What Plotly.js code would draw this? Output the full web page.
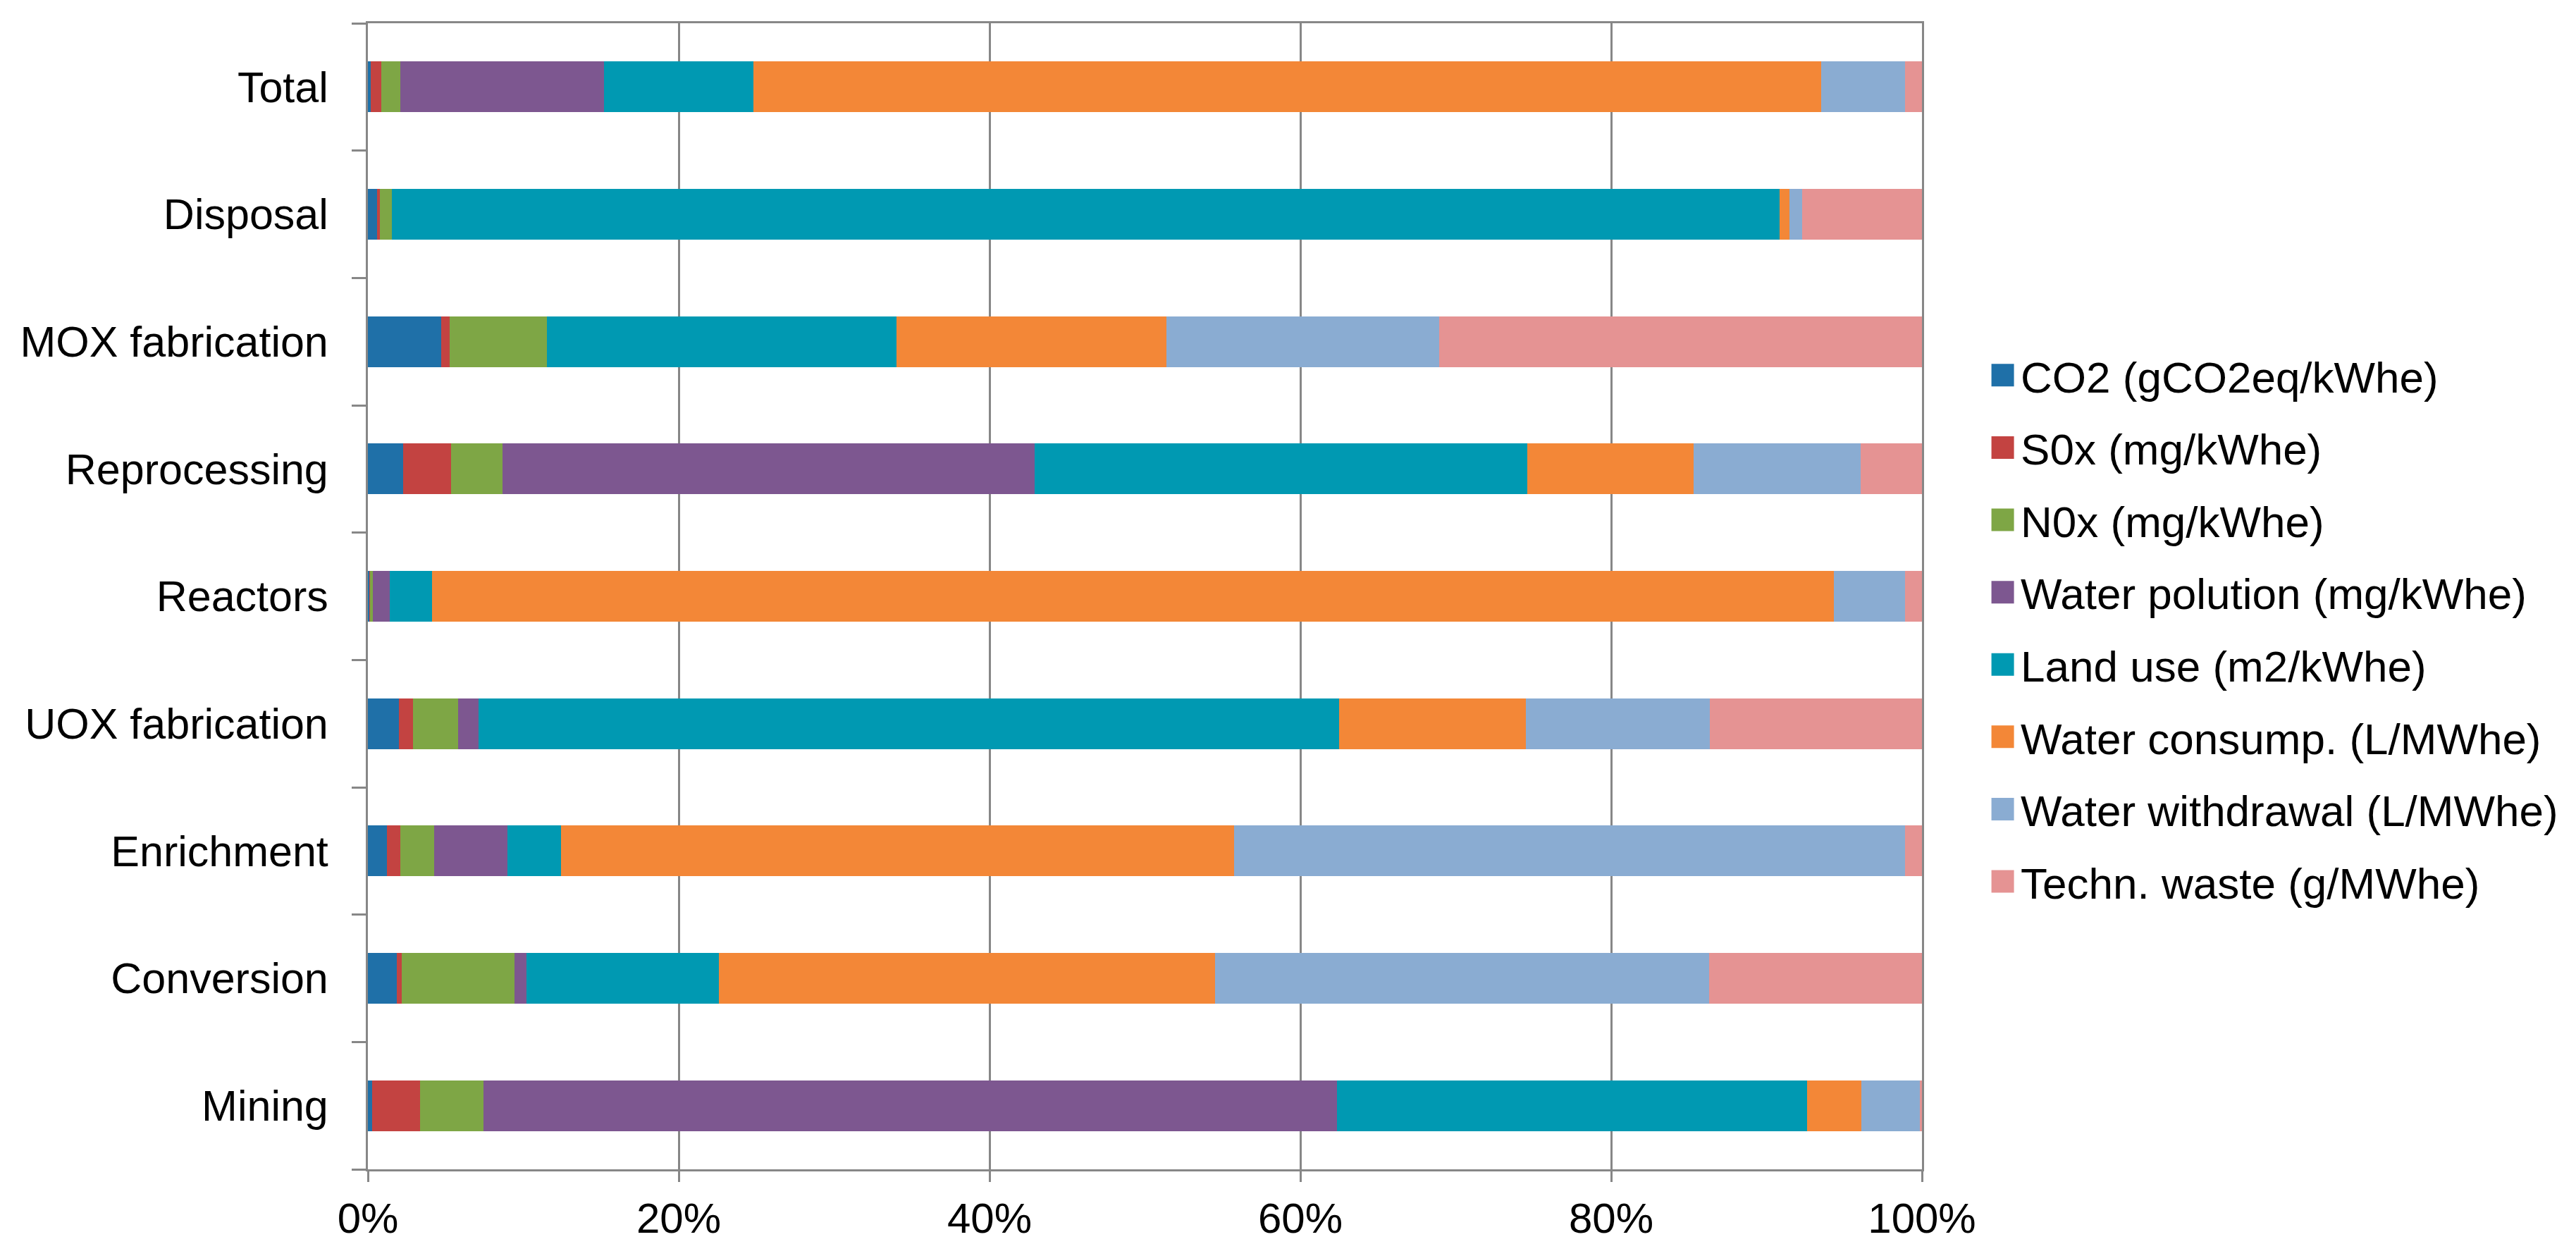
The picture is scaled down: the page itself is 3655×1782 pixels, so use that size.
<!DOCTYPE html>
<html>
<head>
<meta charset="utf-8">
<script src="https://cdn.plot.ly/plotly-3.0.1.min.js"></script>
<style>
  html, body { margin: 0; padding: 0; background: #fff; }
</style>
</head>
<body>
<div id="chart"></div>
<script>
// stages, bottom to top (as in the Excel original)
var stages = ['Mining', 'Conversion', 'Enrichment', 'UOX fabrication', 'Reactors',
              'Reprocessing', 'MOX fabrication', 'Disposal', 'Total'];

// share of each indicator per stage (%)
var co2       = [0.26, 1.87, 1.23, 2.00, 0.10, 2.26, 4.72, 0.58, 0.20];
var sox       = [3.10, 0.32, 0.84, 0.90, 0.05, 3.10, 0.52, 0.19, 0.65];
var nox       = [4.07, 7.24, 2.20, 2.91, 0.15, 3.30, 6.27, 0.78, 1.23];
var waterPol  = [54.95, 0.78, 4.72, 1.29, 1.10, 34.26, 0, 0, 13.12];
var landUse   = [30.25, 12.35, 3.43, 55.40, 2.71, 31.67, 22.50, 89.27, 9.63];
var waterCons = [3.49, 31.93, 43.31, 12.02, 90.17, 10.73, 17.39, 0.65, 68.71];
var waterWith = [3.75, 31.80, 43.18, 11.83, 4.59, 10.73, 17.52, 0.84, 5.37];
var techWaste = [0.13, 13.70, 1.10, 13.64, 1.10, 3.94, 31.09, 7.69, 1.10];

var seriesNames = ['CO2 (gCO2eq/kWhe)', 'S0x (mg/kWhe)', 'N0x (mg/kWhe)',
                   'Water polution (mg/kWhe)', 'Land use (m2/kWhe)',
                   'Water consump. (L/MWhe)', 'Water withdrawal (L/MWhe)',
                   'Techn. waste (g/MWhe)'];
var seriesValues = [co2, sox, nox, waterPol, landUse, waterCons, waterWith, techWaste];
var colors = ['#1f70a8', '#c34341', '#7ea645', '#7d5790',
              '#0099b2', '#f38737', '#8aacd2', '#e59393'];

var data = seriesNames.map(function (name, i) {
  return {
    x: seriesValues[i],
    y: stages,
    name: name,
    type: 'bar',
    orientation: 'h',
    legendgroup: 'g' + i,
    hoverinfo: 'name+x',
    marker: { color: colors[i], line: { width: 0 } }
  };
});

var grey = '#878787';

var layout = {
  width: 3655,
  height: 1782,
  barmode: 'stack',
  barnorm: 'percent',
  bargap: 0.6,
  paper_bgcolor: '#fff',
  plot_bgcolor: '#fff',
  font: { family: 'Liberation Sans, Arial, sans-serif', size: 61, color: '#000' },
  margin: { l: 522, r: 928, t: 33, b: 123, pad: 0 },
  xaxis: {
    range: [0, 100],
    dtick: 20,
    ticksuffix: '%',
    showgrid: true,
    gridcolor: grey,
    gridwidth: 3,
    zeroline: false,
    showline: true,
    mirror: true,
    linecolor: grey,
    linewidth: 3,
    ticks: 'outside',
    ticklen: 15,
    tickwidth: 3,
    tickcolor: grey,
    tickfont: { size: 60 },
    fixedrange: true
  },
  yaxis: {
    showgrid: false,
    showline: true,
    mirror: true,
    linecolor: grey,
    linewidth: 3,
    ticks: 'outside',
    tickson: 'boundaries',
    ticklen: 20,
    tickwidth: 3,
    tickcolor: grey,
    ticklabelstandoff: 41,
    tickfont: { size: 61 },
    fixedrange: true
  },
  showlegend: true,
  legend: {
    x: 1.0404,
    xanchor: 'left',
    y: 0.472,
    yanchor: 'middle',
    traceorder: 'grouped',
    tracegroupgap: 19,
    itemwidth: 41,
    font: { size: 62 },
    bgcolor: 'rgba(0,0,0,0)'
  }
};

var config = { responsive: false, displayModeBar: false, staticPlot: true };

Plotly.newPlot('chart', data, layout, config).then(function (gd) {
  // Excel draws much larger legend keys than plotly's 12px squares
  gd.querySelectorAll('.legend .legendpoints path').forEach(function (p) {
    p.setAttribute('d', 'M16,16H-16V-16H16Z');
  });
});
</script>
</body>
</html>
